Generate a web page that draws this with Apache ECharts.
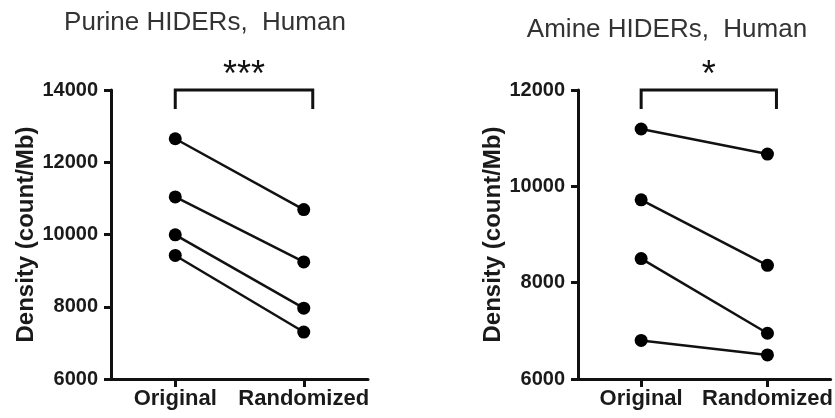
<!DOCTYPE html>
<html>
<head>
<meta charset="utf-8">
<script src="https://cdn.jsdelivr.net/npm/echarts@6/dist/echarts.min.js"></script>
<style>html,body{margin:0;padding:0;background:#fff}#c{width:835px;height:418px}</style>
</head>
<body>
<div id="c"></div>
<script>
const categories = ['Original', 'Randomized'];
const purineOriginal = [12650, 11040, 9990, 9420];
const purineRandomized = [10690, 9240, 7960, 7300];
const amineOriginal = [11190, 9720, 8500, 6800];
const amineRandomized = [10670, 8360, 6950, 6500];
const purineTicks = { min: 6000, max: 14000, interval: 2000 };
const amineTicks = { min: 6000, max: 12000, interval: 2000 };
const titles = ['Purine HIDERs,  Human', 'Amine HIDERs,  Human'];
const yName = 'Density (count/Mb)';
const significance = ['***', '*'];

const FONT = 'Liberation Sans, Arial, sans-serif';
const chart = echarts.init(document.getElementById('c'));

function yAxis(idx, t) {
  return {
    type: 'value', gridIndex: idx, min: t.min, max: t.max, interval: t.interval,
    name: yName, nameLocation: 'middle', nameGap: 72, nameRotate: 90,
    nameTextStyle: { fontFamily: FONT, fontWeight: 'bold', fontSize: 24, color: '#1a1a1a' },
    axisLine: { show: true, lineStyle: { color: '#111', width: 3 } },
    axisTick: { show: true, length: 7, lineStyle: { color: '#111', width: 3 } },
    axisLabel: { fontFamily: FONT, fontWeight: 'bold', fontSize: 20, color: '#1a1a1a', margin: 13,
      formatter: function (v) { return String(v); } },
    splitLine: { show: false }
  };
}
function xAxis(idx) {
  return {
    type: 'category', gridIndex: idx, data: categories, boundaryGap: true,
    axisLine: { show: true, lineStyle: { color: '#111', width: 3 } },
    axisTick: { show: true, alignWithLabel: true, length: 8, lineStyle: { color: '#111', width: 3 } },
    axisLabel: { fontFamily: FONT, fontWeight: 'bold', fontSize: 22, color: '#1a1a1a', margin: 9, interval: 0 }
  };
}
function pairSeries(idx, orig, rand) {
  return orig.map((v, i) => ({
    type: 'line', xAxisIndex: idx, yAxisIndex: idx,
    data: [v, rand[i]],
    symbol: 'circle', symbolSize: 13,
    itemStyle: { color: '#000' },
    lineStyle: { color: '#111', width: 2.5 },
    silent: true
  }));
}
function bracket(idx, t, label) {
  return {
    type: 'custom', xAxisIndex: idx, yAxisIndex: idx, clip: false, silent: true,
    data: [[0, t.max]],
    renderItem: function (params, api) {
      const p0 = api.coord([0, t.max]);
      const p1 = api.coord([1, t.max]);
      const x0 = p0[0], x1 = p1[0] + 9, y = p0[1];
      return {
        type: 'group',
        children: [
          { type: 'polyline', shape: { points: [[x0, y + 19], [x0, y], [x1, y], [x1, y + 19]] },
            style: { stroke: '#111', lineWidth: 3, fill: null } },
          { type: 'text', x: (x0 + x1) / 2, y: y - 14,
            style: { text: label, fontFamily: FONT, fontWeight: 'normal', fontSize: 36, fill: '#111',
              align: 'center', verticalAlign: 'middle' } }
        ]
      };
    }
  };
}

chart.setOption({
  animation: false,
  title: [
    { text: titles[0], left: 200, top: 5, textAlign: 'center',
      textStyle: { fontFamily: FONT, fontWeight: 'normal', fontSize: 26, color: '#333' } },
    { text: titles[1], left: 662, top: 12, textAlign: 'center',
      textStyle: { fontFamily: FONT, fontWeight: 'normal', fontSize: 26, color: '#333' } }
  ],
  grid: [
    { left: 111, top: 90, width: 257, height: 289 },
    { left: 578, top: 90, width: 256, height: 289 }
  ],
  xAxis: [xAxis(0), xAxis(1)],
  yAxis: [yAxis(0, purineTicks), yAxis(1, amineTicks)],
  series: [
    ...pairSeries(0, purineOriginal, purineRandomized),
    ...pairSeries(1, amineOriginal, amineRandomized),
    bracket(0, purineTicks, significance[0]),
    bracket(1, amineTicks, significance[1])
  ]
});
</script>
</body>
</html>
